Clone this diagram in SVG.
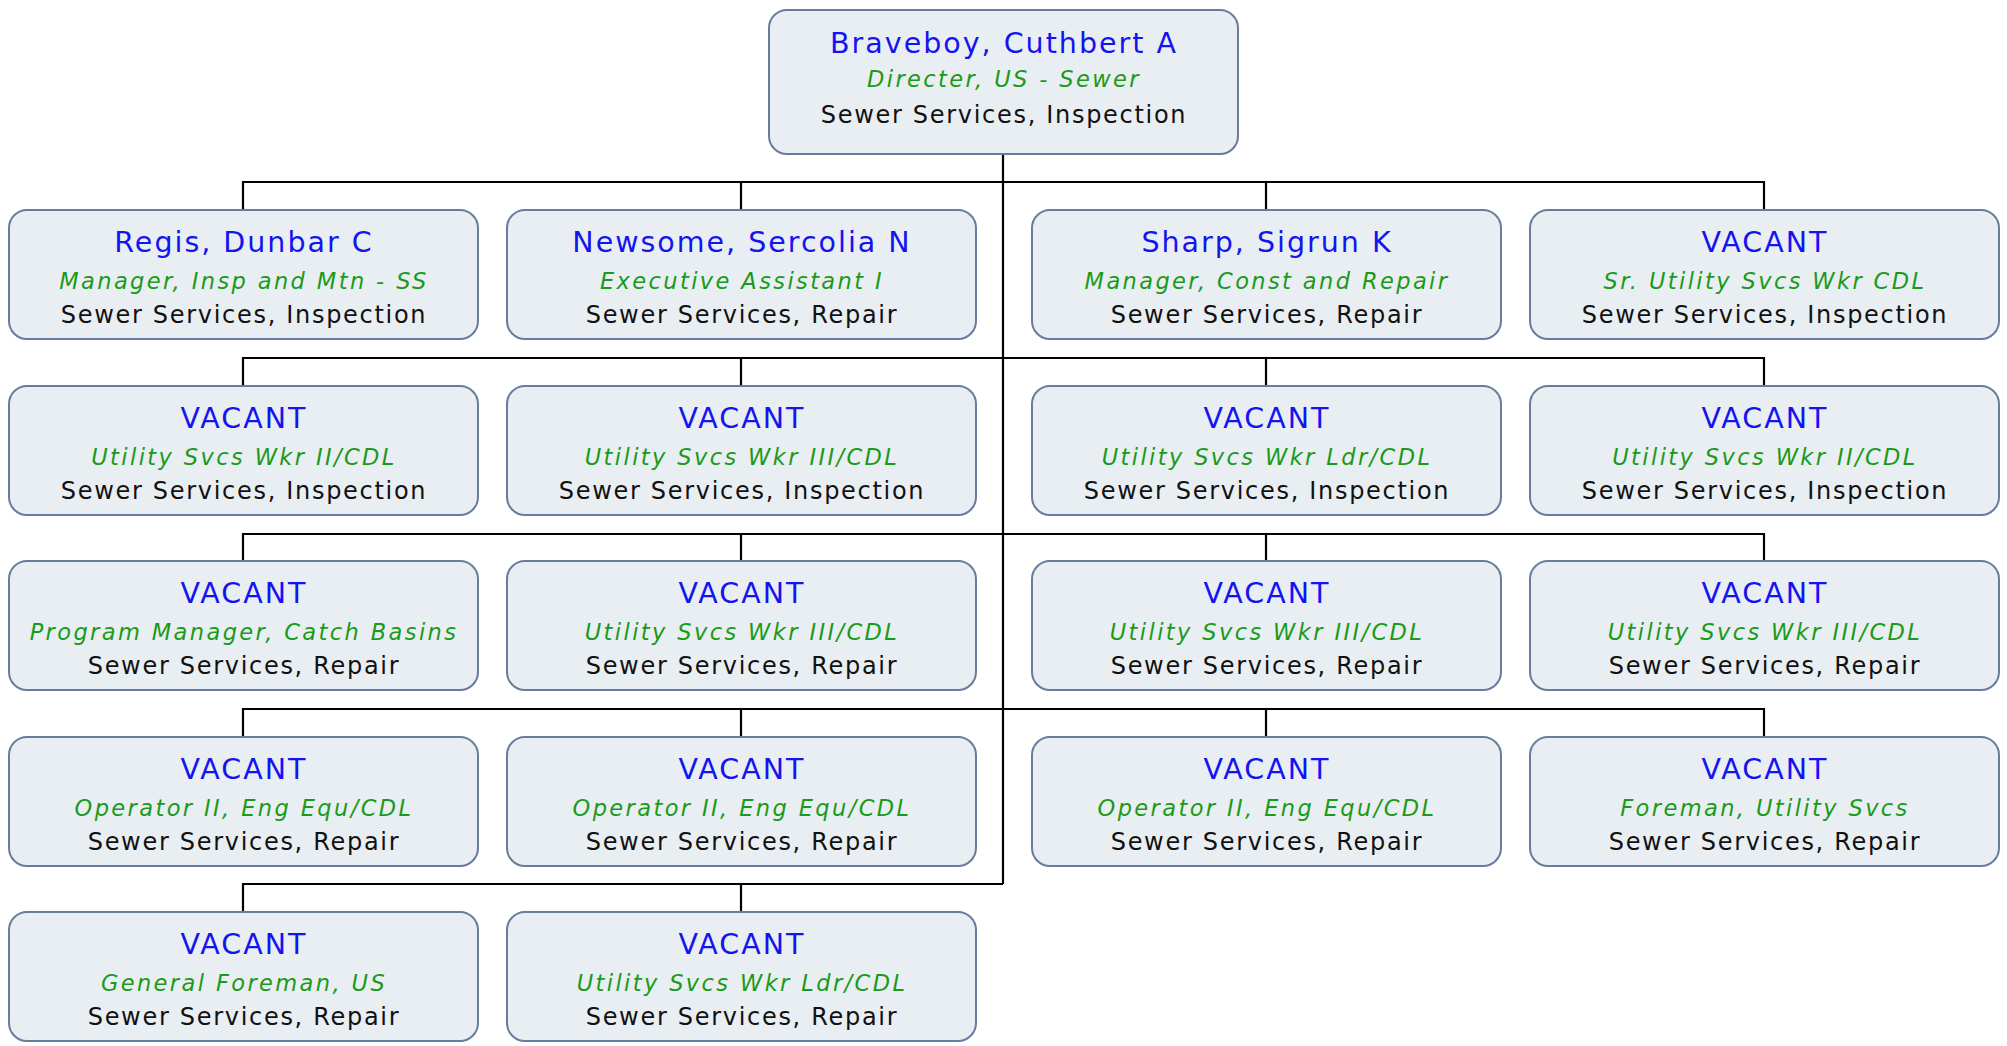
<svg xmlns="http://www.w3.org/2000/svg" width="2007" height="1046" viewBox="0 0 2007 1046">
<style>
.box{fill:#e9eef2;stroke:#687c9e;stroke-width:2}
.n{font-family:"DejaVu Sans",Verdana,sans-serif;font-size:28.5px;fill:#1414f0;text-anchor:middle;letter-spacing:2px}
.t{font-family:"DejaVu Sans",Verdana,sans-serif;font-size:22.5px;font-style:italic;fill:#1a9a1a;text-anchor:middle;letter-spacing:2.4px}
.d{font-family:"DejaVu Sans",Verdana,sans-serif;font-size:24px;fill:#111;text-anchor:middle;letter-spacing:1.7px}
.c{fill:none;stroke:#000;stroke-width:2.2}
</style>
<rect width="2007" height="1046" fill="#fff"/>
<g id="connectors">
<path class="c" d="M1003,154V884"/>
<path class="c" d="M243,210V182H1764V210M741,182V210M1266,182V210"/>
<path class="c" d="M243,386V358H1764V386M741,358V386M1266,358V386"/>
<path class="c" d="M243,561V534H1764V561M741,534V561M1266,534V561"/>
<path class="c" d="M243,737V709H1764V737M741,709V737M1266,709V737"/>
<path class="c" d="M243,912V884H1003M741,884V912"/>
</g>
<g id="root"><rect class="box" x="769" y="10" width="469" height="144" rx="18"/><text class="n" x="1004" y="53">Braveboy, Cuthbert A</text><text class="t" x="1004" y="87">Directer, US - Sewer</text><text class="d" x="1004" y="123">Sewer Services, Inspection</text></g>
<g id="n1"><rect class="box" x="9" y="210" width="469" height="129" rx="18"/><text class="n" x="244" y="252">Regis, Dunbar C</text><text class="t" x="244" y="289">Manager, Insp and Mtn - SS</text><text class="d" x="244" y="323">Sewer Services, Inspection</text></g>
<g id="n2"><rect class="box" x="507" y="210" width="469" height="129" rx="18"/><text class="n" x="742" y="252">Newsome, Sercolia N</text><text class="t" x="742" y="289">Executive Assistant I</text><text class="d" x="742" y="323">Sewer Services, Repair</text></g>
<g id="n3"><rect class="box" x="1032" y="210" width="469" height="129" rx="18"/><text class="n" x="1267" y="252">Sharp, Sigrun K</text><text class="t" x="1267" y="289">Manager, Const and Repair</text><text class="d" x="1267" y="323">Sewer Services, Repair</text></g>
<g id="n4"><rect class="box" x="1530" y="210" width="469" height="129" rx="18"/><text class="n" x="1765" y="252">VACANT</text><text class="t" x="1765" y="289">Sr. Utility Svcs Wkr CDL</text><text class="d" x="1765" y="323">Sewer Services, Inspection</text></g>
<g id="n5"><rect class="box" x="9" y="386" width="469" height="129" rx="18"/><text class="n" x="244" y="428">VACANT</text><text class="t" x="244" y="465">Utility Svcs Wkr II/CDL</text><text class="d" x="244" y="499">Sewer Services, Inspection</text></g>
<g id="n6"><rect class="box" x="507" y="386" width="469" height="129" rx="18"/><text class="n" x="742" y="428">VACANT</text><text class="t" x="742" y="465">Utility Svcs Wkr III/CDL</text><text class="d" x="742" y="499">Sewer Services, Inspection</text></g>
<g id="n7"><rect class="box" x="1032" y="386" width="469" height="129" rx="18"/><text class="n" x="1267" y="428">VACANT</text><text class="t" x="1267" y="465">Utility Svcs Wkr Ldr/CDL</text><text class="d" x="1267" y="499">Sewer Services, Inspection</text></g>
<g id="n8"><rect class="box" x="1530" y="386" width="469" height="129" rx="18"/><text class="n" x="1765" y="428">VACANT</text><text class="t" x="1765" y="465">Utility Svcs Wkr II/CDL</text><text class="d" x="1765" y="499">Sewer Services, Inspection</text></g>
<g id="n9"><rect class="box" x="9" y="561" width="469" height="129" rx="18"/><text class="n" x="244" y="603">VACANT</text><text class="t" x="244" y="640">Program Manager, Catch Basins</text><text class="d" x="244" y="674">Sewer Services, Repair</text></g>
<g id="n10"><rect class="box" x="507" y="561" width="469" height="129" rx="18"/><text class="n" x="742" y="603">VACANT</text><text class="t" x="742" y="640">Utility Svcs Wkr III/CDL</text><text class="d" x="742" y="674">Sewer Services, Repair</text></g>
<g id="n11"><rect class="box" x="1032" y="561" width="469" height="129" rx="18"/><text class="n" x="1267" y="603">VACANT</text><text class="t" x="1267" y="640">Utility Svcs Wkr III/CDL</text><text class="d" x="1267" y="674">Sewer Services, Repair</text></g>
<g id="n12"><rect class="box" x="1530" y="561" width="469" height="129" rx="18"/><text class="n" x="1765" y="603">VACANT</text><text class="t" x="1765" y="640">Utility Svcs Wkr III/CDL</text><text class="d" x="1765" y="674">Sewer Services, Repair</text></g>
<g id="n13"><rect class="box" x="9" y="737" width="469" height="129" rx="18"/><text class="n" x="244" y="779">VACANT</text><text class="t" x="244" y="816">Operator II, Eng Equ/CDL</text><text class="d" x="244" y="850">Sewer Services, Repair</text></g>
<g id="n14"><rect class="box" x="507" y="737" width="469" height="129" rx="18"/><text class="n" x="742" y="779">VACANT</text><text class="t" x="742" y="816">Operator II, Eng Equ/CDL</text><text class="d" x="742" y="850">Sewer Services, Repair</text></g>
<g id="n15"><rect class="box" x="1032" y="737" width="469" height="129" rx="18"/><text class="n" x="1267" y="779">VACANT</text><text class="t" x="1267" y="816">Operator II, Eng Equ/CDL</text><text class="d" x="1267" y="850">Sewer Services, Repair</text></g>
<g id="n16"><rect class="box" x="1530" y="737" width="469" height="129" rx="18"/><text class="n" x="1765" y="779">VACANT</text><text class="t" x="1765" y="816">Foreman, Utility Svcs</text><text class="d" x="1765" y="850">Sewer Services, Repair</text></g>
<g id="n17"><rect class="box" x="9" y="912" width="469" height="129" rx="18"/><text class="n" x="244" y="954">VACANT</text><text class="t" x="244" y="991">General Foreman, US</text><text class="d" x="244" y="1025">Sewer Services, Repair</text></g>
<g id="n18"><rect class="box" x="507" y="912" width="469" height="129" rx="18"/><text class="n" x="742" y="954">VACANT</text><text class="t" x="742" y="991">Utility Svcs Wkr Ldr/CDL</text><text class="d" x="742" y="1025">Sewer Services, Repair</text></g>
</svg>
